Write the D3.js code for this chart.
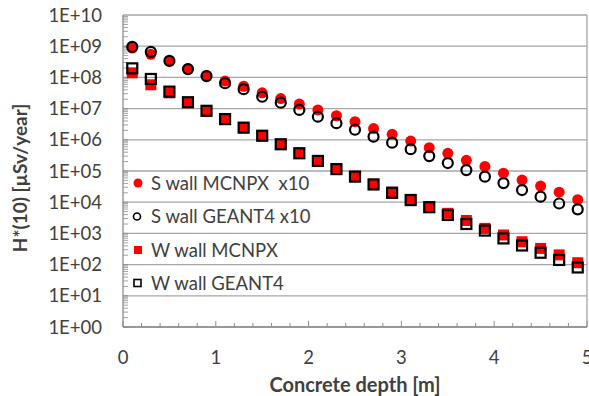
<!DOCTYPE html>
<html>
<head>
<meta charset="utf-8">
<script src="https://cdn.jsdelivr.net/npm/d3@7"></script>
<style>
  body { margin: 0; background: #fff; }
  svg text { font-family: Lato, "Open Sans", sans-serif; fill: #404040; white-space: pre; }
</style>
</head>
<body>
<div id="chart"></div>
<script>
// concrete depth [m]
const depth = [0.1, 0.3, 0.5, 0.7, 0.9, 1.1, 1.3, 1.5, 1.7, 1.9, 2.1, 2.3, 2.5,
  2.7, 2.9, 3.1, 3.3, 3.5, 3.7, 3.9, 4.1, 4.3, 4.5, 4.7, 4.9]

// H*(10) [uSv/year]
const sMcnpx = [8.7e8, 5.5e8, 3.3e8, 1.9e8, 1.15e8, 7.6e7, 5.2e7, 3.2e7, 2.1e7, 1.4e7, 9.1e6, 5.9e6, 3.8e6,
  2.3e6, 1.5e6, 9.1e5, 5.6e5, 3.7e5, 2.2e5, 1.4e5, 8.5e4, 5.1e4, 3.3e4, 2.1e4, 1.2e4]
const sGeant4 = [9.5e8, 6.6e8, 3.4e8, 1.85e8, 1.1e8, 6.5e7, 4.2e7, 2.4e7, 1.55e7, 9.1e6, 5.5e6, 3.4e6, 2.1e6,
  1.26e6, 8.1e5, 5.0e5, 3.0e5, 1.8e5, 1.07e5, 6.6e4, 4.1e4, 2.45e4, 1.5e4, 9.1e3, 5.9e3]
const wMcnpx = [1.4e8, 5.8e7, 3.2e7, 1.55e7, 8.3e6, 4.5e6, 2.45e6, 1.35e6, 7.2e5, 3.8e5, 2.1e5, 1.17e5, 6.8e4,
  3.8e4, 2.1e4, 1.23e4, 7.2e3, 4.4e3, 2.6e3, 1.45e3, 890, 540, 330, 205, 115]
const wGeant4 = [1.95e8, 8.9e7, 3.5e7, 1.6e7, 8.5e6, 4.6e6, 2.45e6, 1.35e6, 7.2e5, 3.7e5, 2.1e5, 1.15e5, 6.6e4,
  3.7e4, 2.0e4, 1.17e4, 6.9e3, 3.9e3, 2.0e3, 1.23e3, 690, 410, 240, 141, 81]

const legendLabels = ["S wall MCNPX  x10", "S wall GEANT4 x10", "W wall MCNPX", "W wall GEANT4"]
const xTicks = [0, 1, 2, 3, 4, 5]
const yTicks = [1e0, 1e1, 1e2, 1e3, 1e4, 1e5, 1e6, 1e7, 1e8, 1e9, 1e10]

const width = 589, height = 396
const margin = {left: 123, right: 2, top: 15, bottom: 69}

const svg = d3.select("#chart").append("svg")
  .attr("width", width)
  .attr("height", height)

const x = d3.scaleLinear().domain([0, 5]).range([margin.left, width - margin.right])
const y = d3.scaleLog().domain([1, 1e10]).range([height - margin.bottom, margin.top])

// gridlines
svg.append("g").selectAll("line")
  .data(yTicks)
  .enter().append("line")
  .attr("x1", x(0)).attr("x2", x(5))
  .attr("y1", d => y(d)).attr("y2", d => y(d))
  .attr("stroke", "#a6a6a6").attr("stroke-width", 1.3)

// right border
svg.append("line")
  .attr("x1", x(5)).attr("x2", x(5))
  .attr("y1", y(1e10)).attr("y2", y(1))
  .attr("stroke", "#a6a6a6").attr("stroke-width", 1.3)

// y minor ticks (inside)
var minors = []
yTicks.slice(0, -1).forEach(d => {
  for (var k = 1; k < 10; k++) minors.push(d * k)
})
svg.append("g").selectAll("line")
  .data(minors)
  .enter().append("line")
  .attr("x1", x(0)).attr("x2", x(0) + 5)
  .attr("y1", d => y(d)).attr("y2", d => y(d))
  .attr("stroke", "#8c8c8c").attr("stroke-width", 0.8)

// x ticks (inside)
var xMinor = d3.range(0, 26).map(i => i * 0.2)
svg.append("g").selectAll("line")
  .data(xMinor)
  .enter().append("line")
  .attr("x1", d => x(d)).attr("x2", d => x(d))
  .attr("y1", y(1)).attr("y2", (d, i) => y(1) - (i % 5 == 0 ? 6 : 4))
  .attr("stroke", "#8c8c8c").attr("stroke-width", 1)

// axis lines
svg.append("line")
  .attr("x1", x(0)).attr("x2", x(0))
  .attr("y1", y(1e10)).attr("y2", y(1))
  .attr("stroke", "#8c8c8c").attr("stroke-width", 1.3)
svg.append("line")
  .attr("x1", x(0)).attr("x2", x(5))
  .attr("y1", y(1)).attr("y2", y(1))
  .attr("stroke", "#8c8c8c").attr("stroke-width", 1.3)

// tick labels
svg.append("g").selectAll("text")
  .data(yTicks)
  .enter().append("text")
  .attr("x", 102)
  .attr("y", d => y(d) + 6.5)
  .attr("text-anchor", "end")
  .style("font-size", "18.5px")
  .text(d => "1E+" + d3.format("02d")(Math.round(Math.log10(d))))

svg.append("g").selectAll("text")
  .data(xTicks)
  .enter().append("text")
  .attr("x", d => x(d))
  .attr("y", 364)
  .attr("text-anchor", "middle")
  .style("font-size", "18.5px")
  .text(d => d)

// axis titles
svg.append("text")
  .attr("x", (x(0) + x(5)) / 2)
  .attr("y", 392)
  .attr("text-anchor", "middle")
  .style("font-size", "20px")
  .style("font-weight", "bold")
  .text("Concrete depth [m]")

svg.append("text")
  .attr("transform", "translate(27," + 178 + ") rotate(-90)")
  .attr("text-anchor", "middle")
  .style("font-size", "19px")
  .style("font-weight", "bold")
  .text("H*(10) [µSv/year]")

// markers
const plot = svg.append("g")

plot.selectAll(".smc")
  .data(depth)
  .enter().append("circle")
  .attr("cx", d => x(d))
  .attr("cy", (d, i) => y(sMcnpx[i]))
  .attr("r", 5.5)
  .attr("fill", "#ff0000")

plot.selectAll(".wmc")
  .data(depth)
  .enter().append("rect")
  .attr("x", d => x(d) - 5.5)
  .attr("y", (d, i) => y(wMcnpx[i]) - 5.5)
  .attr("width", 11).attr("height", 11)
  .attr("fill", "#ff0000")

plot.selectAll(".sg4")
  .data(depth)
  .enter().append("circle")
  .attr("cx", d => x(d))
  .attr("cy", (d, i) => y(sGeant4[i]))
  .attr("r", 5)
  .attr("fill", "none")
  .attr("stroke", "#000").attr("stroke-width", 2.2)

plot.selectAll(".wg4")
  .data(depth)
  .enter().append("rect")
  .attr("x", d => x(d) - 5)
  .attr("y", (d, i) => y(wGeant4[i]) - 5)
  .attr("width", 10).attr("height", 10)
  .attr("fill", "none")
  .attr("stroke", "#000").attr("stroke-width", 2.2)

// legend
const legendY = [183, 216.5, 250, 283]
var legend = svg.append("g")
legend.selectAll("text")
  .data(legendLabels)
  .enter().append("text")
  .attr("x", 151)
  .attr("y", (d, i) => legendY[i] + 6.5)
  .style("font-size", "18.5px")
  .text(d => d)

legend.append("circle").attr("cx", 138).attr("cy", legendY[0]).attr("r", 4.5).attr("fill", "#ff0000")
legend.append("circle").attr("cx", 137).attr("cy", legendY[1]).attr("r", 3.5)
  .attr("fill", "none").attr("stroke", "#000").attr("stroke-width", 1.6)
legend.append("rect").attr("x", 134).attr("y", legendY[2] - 4).attr("width", 8).attr("height", 8).attr("fill", "#ff0000")
legend.append("rect").attr("x", 134).attr("y", legendY[3] - 3.5).attr("width", 7).attr("height", 7)
  .attr("fill", "none").attr("stroke", "#000").attr("stroke-width", 1.6)
</script>
</body>
</html>
